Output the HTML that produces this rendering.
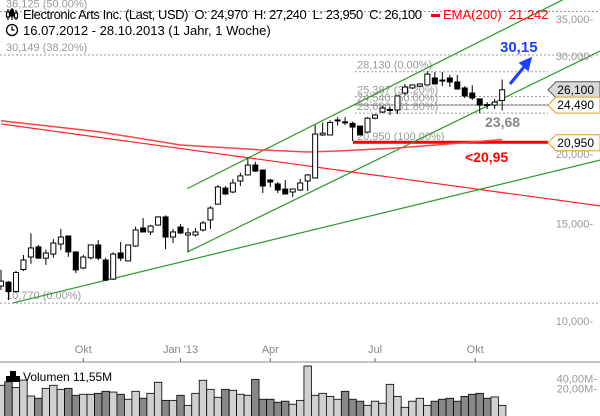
<!DOCTYPE html>
<html><head><meta charset="utf-8">
<style>
html,body{margin:0;padding:0;background:#fff;}
body{width:600px;height:416px;overflow:hidden;position:relative;font-family:"Liberation Sans",sans-serif;}
svg{position:absolute;left:0;top:0;}
</style></head>
<body>
<svg id="chart" width="600" height="416" viewBox="0 0 600 416" xmlns="http://www.w3.org/2000/svg">
<defs><clipPath id="plotclip"><rect x="0" y="0" width="600" height="362"/></clipPath></defs>
<g id="fib"></g>
<g id="lines" clip-path="url(#plotclip)"></g>
<g id="candles"></g>
<g id="axis"></g>
<g id="vol"></g>
<g id="ann"></g>
<g>
  <g stroke="#000" stroke-width="1.2">
    <line x1="8" y1="9" x2="8" y2="20"/><rect x="6.5" y="12" width="3" height="5" fill="#fff"/>
    <line x1="12" y1="8" x2="12" y2="20"/><rect x="10.5" y="10" width="3" height="6" fill="#000"/>
    <line x1="16" y1="10" x2="16" y2="20"/><rect x="14.5" y="13" width="3" height="5" fill="#fff"/>
  </g>
  <text x="23" y="19" font-size="13" fill="#000" xml:space="preserve" textLength="399" lengthAdjust="spacing">Electronic Arts Inc. (Last, USD)  O: 24,970  H: 27,240  L: 23,950  C: 26,100</text>
  <rect x="431" y="14" width="9" height="3" fill="#f00"/>
  <text x="443" y="19" font-size="13" fill="#f00" xml:space="preserve">EMA(200)  21,242</text>
  <circle cx="12" cy="30" r="5.5" fill="none" stroke="#000" stroke-width="1.3"/>
  <path d="M12 26.5 V30 H14.5" fill="none" stroke="#000" stroke-width="1.2"/>
  <text x="23" y="35" font-size="13" fill="#000">16.07.2012 - 28.10.2013 (1 Jahr, 1 Woche)</text>
</g>
</svg>
<script>
// ---- data ----
const opens  = [11.56,11.75,11.30,12.38,13.04,13.60,12.98,13.20,13.76,14.23,13.32,12.46,13.00,13.71,12.88,11.90,13.26,12.83,13.65,14.71,14.47,14.89,15.40,14.17,14.77,14.29,14.29,14.59,15.21,16.24,17.36,17.08,17.88,18.33,19.10,18.71,17.95,17.66,17.29,17.08,17.22,17.88,18.10,21.64,21.64,22.95,22.85,22.71,22.45,21.90,23.20,23.80,24.00,24.00,25.75,26.30,26.50,26.63,27.41,27.18,27.41,26.96,26.30,25.75,25.13,24.55,24.50,24.97];
const highs  = [12.36,11.80,12.31,13.15,14.39,13.71,13.45,14.05,14.65,14.23,13.32,13.15,13.71,13.99,13.00,13.30,13.88,13.71,14.80,15.33,14.90,15.45,15.50,14.65,14.95,14.71,14.71,15.15,16.10,17.58,17.50,18.03,18.50,19.67,19.35,18.71,18.03,17.80,17.95,17.30,18.03,18.40,22.55,22.79,23.00,23.30,23.30,22.85,22.50,23.30,23.60,24.40,24.30,25.50,26.74,26.70,26.80,28.20,28.10,28.10,27.75,27.75,26.50,26.60,25.20,24.80,25.13,27.24];
const lows   = [11.37,10.91,11.25,12.30,12.68,12.95,12.62,13.00,13.43,13.05,12.20,12.40,12.90,12.88,11.80,11.85,12.83,12.80,13.60,14.47,14.29,14.85,13.48,13.82,14.35,13.32,14.20,14.50,14.65,16.20,16.87,17.00,17.50,18.30,18.56,17.00,17.44,17.00,16.90,16.73,17.15,17.15,18.10,21.55,21.60,22.50,22.55,21.10,21.60,21.85,23.10,23.70,23.50,23.60,25.50,26.19,26.40,26.60,26.70,26.50,26.40,26.10,25.23,25.02,23.70,24.10,24.10,23.95];
const closes = [11.80,11.30,12.23,12.88,13.54,12.98,13.26,13.82,14.17,13.32,12.36,13.04,13.71,12.98,11.85,13.20,12.98,13.71,14.59,14.47,14.83,15.40,14.17,14.47,14.41,14.41,14.47,15.02,15.98,17.44,16.94,17.73,18.26,19.10,18.63,17.51,17.80,17.22,16.94,17.29,17.73,18.33,21.72,21.80,22.79,23.03,22.80,22.36,21.64,23.20,23.51,24.20,24.05,25.44,26.40,26.63,26.74,27.86,26.74,27.10,26.96,26.19,25.44,25.23,24.50,24.50,24.80,26.10];
const volumes = [25.1,31.8,21.8,35.6,12.3,10.6,20.5,25.1,19.2,20.5,12.9,13.8,13.8,14.7,16.8,16.0,13.8,9.9,16.8,10.6,14.7,30.7,9.2,9.2,12.9,6.6,14.7,35.1,19.2,11.3,19.2,18.0,13.8,12.9,37.3,9.9,9.9,8.1,8.7,7.1,9.2,90.7,12.9,14.7,12.0,9.9,16.8,9.9,8.7,6.6,8.7,7.6,26.8,12.0,5.8,8.7,10.6,6.6,8.7,9.9,10.6,8.7,12.0,13.8,14.7,10.6,11.55,6.6];
const emaIdx = [0,13,24,35,41,45,53,60,67];
const emaVal = [22.95,21.94,20.76,20.33,20.16,20.25,20.50,20.85,21.24];
const priceTicks = [35,30,20,15,10];
const priceTickLabels = ["35,000","30,000","20,000","15,000","10,000"];
const volTicks = [40,20];
const volTickLabels = ["40,00M","20,00M"];
const monthIdx = [11,24,36,50,63.4];
const monthLabels = ["Okt","Jan '13","Apr","Jul","Okt"];
const fibVals = [28.13,25.387,24.54,23.69,20.95];
const fibLabels = ["28,130 (0.00%)","25,387 (38.20%)","24,540 (50.00%)","23,690 (61.80%)","20,950 (100.00%)"];
const bigFibVals = [36.125,30.149,10.77];
const bigFibLabels = ["36,125 (50.00%)","30,149 (38.20%)","10,770 (0.00%)"];
// trend lines: [index1, price1, index2, price2]
const greenLines = [[24.9,17.32,80.1,41.0],[24.9,13.31,80.1,30.65],[1.6,10.78,80.1,19.5]];
const redLine = [0,22.65,80.1,16.12];

// ---- scales ----
const X = i => 1 + 7.48*i;
const Y = v => 321 - 241*Math.log(v/10);
const YV = v => 378.3 + 10.4*Math.log2(40/v);
const NS = "http://www.w3.org/2000/svg";
function mk(tag, attrs, parent){ const e=document.createElementNS(NS,tag); for(const k in attrs) e.setAttribute(k,attrs[k]); parent.appendChild(e); return e; }

// fib levels
const fib = document.getElementById('fib');
bigFibVals.forEach((v,k)=>{
  const y=Y(v);
  const l=mk('line',{x1:0,x2:600,y1:y,y2:y,stroke:'#999','stroke-dasharray':'2,2','stroke-width':1},fib);
  
  
  const t=mk('text',{x:6,y:y-4,'font-size':11,fill:'#999'},fib); t.textContent=bigFibLabels[k];
  
  
});
fibVals.forEach((v,k)=>{
  const y=Y(v);
  const l=mk('line',{x1:355,x2:548,y1:y,y2:y,stroke:'#999','stroke-dasharray':'2,2','stroke-width':1},fib);
  
  
  const t=mk('text',{x:357,y:y-3,'font-size':11,fill:'#999'},fib); t.textContent=fibLabels[k];
  
  
});
const sl=mk('line',{x1:355,x2:548,y1:Y(24.49),y2:Y(24.49),stroke:'#888','stroke-width':1},fib);


const rb=mk('rect',{x:353,y:Y(20.95)-2,width:195,height:3,fill:'#f00'},fib);



// lines
const lines=document.getElementById('lines');
greenLines.forEach(g=>{
  const l=mk('line',{x1:X(g[0]),y1:Y(g[1]),x2:X(g[2]),y2:Y(g[3]),stroke:'#2a9a2a','stroke-width':1.2},lines);
  
  
});
const rl=mk('line',{x1:X(redLine[0]),y1:Y(redLine[1]),x2:X(redLine[2]),y2:Y(redLine[3]),stroke:'#f22','stroke-width':1.2},lines);


let d='';
emaIdx.forEach((ix,k)=>{ d += (k?' L':'M')+X(ix).toFixed(1)+' '+Y(emaVal[k]).toFixed(1); });
const ema=mk('path',{d:d,fill:'none',stroke:'#f44','stroke-width':1.5,'stroke-linejoin':'round'},lines);



// candles
const cg=document.getElementById('candles');
opens.forEach((o,i)=>{
  const c=closes[i], x=X(i), up=c>=o;
  const g=mk('g',{},cg);
  
  
  mk('line',{x1:x,x2:x,y1:Y(highs[i]),y2:Y(lows[i]),stroke:'#000','stroke-width':1},g);
  const top=Y(Math.max(o,c)), bot=Y(Math.min(o,c));
  mk('rect',{x:x-2.5,y:top,width:5,height:Math.max(bot-top,1),fill:up?'#fff':'#000',stroke:'#000','stroke-width':1},g);
});

// axes
const ax=document.getElementById('axis');
priceTicks.forEach((v,k)=>{
  const y=Y(v);
  const t=mk('text',{x:593,y:y+4,'font-size':11,fill:'#999','text-anchor':'end'},ax); t.textContent=priceTickLabels[k]+'-';
  
  
});
const sep=mk('line',{x1:0,x2:600,y1:362,y2:362,stroke:'#888','stroke-width':1},ax);


monthIdx.forEach((ix,k)=>{
  const x=X(ix);
  mk('line',{x1:x,x2:x,y1:358,y2:362,stroke:'#666'},ax);
  const t=mk('text',{x:x,y:353,'font-size':11,fill:'#888','text-anchor':'middle'},ax); t.textContent=monthLabels[k];
  
  
});
volTicks.forEach((v,k)=>{
  const t=mk('text',{x:597,y:YV(v)+4,'font-size':11,fill:'#999','text-anchor':'end'},ax); t.textContent=volTickLabels[k]+'-';
  
  
});

// volume
const vg=document.getElementById('vol');
volumes.forEach((v,i)=>{
  const x=X(i)-3.74, y=YV(v);
  const up=closes[i]>=opens[i];
  const r=mk('rect',{x:x,y:y,width:7.48,height:417-y,fill:up?'#d0d0d0':'#888',stroke:'#000','stroke-width':0.8},vg);
  
  
});
const vl=mk('g',{},vg);


mk('rect',{x:6,y:376,width:14,height:6,fill:'#000'},vl);
mk('rect',{x:10,y:371,width:6,height:6,fill:'#000'},vl);
const vt=mk('text',{x:23,y:381,'font-size':12,fill:'#000'},vl); vt.textContent='Volumen  11,55M';
vt.setAttribute('xml:space','preserve');

// annotations
const an=document.getElementById('ann');
function tag(y,label,fill,stroke,name){
  const g=mk('g',{},an);
  
  
  mk('path',{d:`M548 ${y} L556 ${y-8} H600 V${y+8} H556 Z`,fill:fill,stroke:stroke,'stroke-width':1},g);
  const t=mk('text',{x:594,y:y+4,'font-size':12,fill:'#000','text-anchor':'end'},g); t.textContent=label;
}
tag(Y(26.10),'26,100','#d8d8d8','#555','last-price-tag');
tag(Y(24.49),'24,490','#fff','#e0a020','support-price-tag');
tag(Y(20.95),'20,950','#fff','#e0a020','stop-price-tag');
const t1=mk('text',{x:500,y:52,'font-size':15,'font-weight':'bold',fill:'#1a3fff'},an); t1.textContent='30,15';


const ar=mk('g',{},an);


mk('line',{x1:510,y1:84,x2:524,y2:67,stroke:'#1a3fff','stroke-width':3},ar);
mk('path',{d:'M531 58 L520 63 L528 70 Z',fill:'#1a3fff',stroke:'#1a3fff','stroke-width':1.5},ar);
const t2=mk('text',{x:485,y:127,'font-size':14,'font-weight':'bold',fill:'#888'},an); t2.textContent='23,68';


const t3=mk('text',{x:465,y:162,'font-size':14,'font-weight':'bold',fill:'#f00'},an); t3.textContent='<20,95';


</script>
</body></html>
